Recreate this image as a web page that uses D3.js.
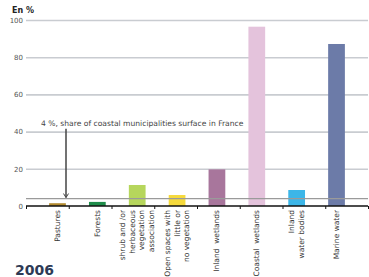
<!DOCTYPE html>
<html>
<head>
<meta charset="utf-8">
<script src="https://cdn.jsdelivr.net/npm/d3@7"></script>
<style>
  body { margin: 0; background: #fff; }
  svg { display: block; font-family: "DejaVu Sans", Verdana, sans-serif; }
</style>
</head>
<body>
<div id="chart"></div>
<script>
// categories (line breaks as in the source labels)
const categories = [
  ['Pastures'],
  ['Forests'],
  ['shrub and /or', 'herbaceous', 'vegetation', 'association'],
  ['Open spaces with', 'little or', 'no vegetation'],
  ['Inland  wetlands'],
  ['Coastal  wetlands'],
  ['Inland', 'water bodies'],
  ['Marine water']
];
const values = [1.5, 2.2, 11.3, 5.9, 19.7, 96.4, 8.6, 87.1];
const colors = ['#b38a2e', '#1e8c4a', '#b6d65c', '#f6da3c', '#a8769c', '#e4c3dc', '#3cb6e8', '#6c7ba8'];
const yTicks = [0, 20, 40, 60, 80, 100];
const refValue = 4;
const refLabel = '4 %, share of coastal municipalities surface in France';

const W = 369, H = 277;
const margin = { top: 20, right: 1, bottom: 71, left: 26 };
const width = W - margin.left - margin.right;
const height = H - margin.top - margin.bottom;

const svg = d3.select('#chart').append('svg')
  .attr('width', W).attr('height', H);

svg.append('text')
  .attr('x', 12).attr('y', 13)
  .style('font-size', '8px').style('font-weight', 'bold').attr('fill', '#222')
  .text('En %');

const g = svg.append('g').attr('transform', `translate(${margin.left},${margin.top})`);

const x = d3.scaleBand().domain(d3.range(categories.length)).range([0, width]).padding(0.58);
const y = d3.scaleLinear().domain([0, 100]).range([height, 0]);

// gridlines + tick labels
const yAxis = g.append('g')
  .call(d3.axisLeft(y).tickValues(yTicks).tickSize(-width).tickFormat(d => d === 0 ? '0' : d));
yAxis.select('.domain').remove();
yAxis.selectAll('.tick line')
  .attr('stroke', d => d === 0 ? 'none' : '#c9ccd1').attr('stroke-width', 1.6);
yAxis.selectAll('.tick text')
  .attr('x', -3).attr('fill', '#555').style('font-size', '7px')
  .style('font-family', '"DejaVu Sans", Verdana, sans-serif');

// bars
g.selectAll('rect.bar')
  .data(values)
  .enter()
  .append('rect')
  .attr('class', 'bar')
  .attr('x', (d, i) => x(i))
  .attr('y', d => y(d))
  .attr('width', x.bandwidth())
  .attr('height', d => height - y(d))
  .attr('fill', (d, i) => colors[i]);

// reference line
g.append('line')
  .attr('x1', 0).attr('x2', width)
  .attr('y1', y(refValue)).attr('y2', y(refValue))
  .attr('stroke', '#9a9a9a').attr('stroke-width', 1.2);

// x axis
const xAxis = g.append('g')
  .attr('transform', `translate(0,${height})`)
  .call(d3.axisBottom(d3.scaleLinear().domain([0, categories.length]).range([0, width]))
    .tickValues(d3.range(categories.length + 1)).tickSize(3).tickFormat(''));
xAxis.select('.domain').attr('stroke', '#111').attr('stroke-width', 1.3).attr('d', `M0,0H${width}`);
xAxis.selectAll('.tick line').attr('stroke', '#111');

// rotated category labels
const labels = g.append('g').attr('transform', `translate(0,${height + 4})`);
categories.forEach((lines, i) => {
  const cx = x(i) + x.bandwidth() / 2;
  const n = lines.length;
  const t = labels.append('text')
    .attr('transform', `translate(${cx},0) rotate(-90)`)
    .attr('text-anchor', 'end')
    .attr('fill', '#333')
    .style('font-size', '7.5px');
  lines.forEach((ln, k) => {
    t.append('tspan')
      .attr('x', 0)
      .attr('y', (k - (n - 1) / 2) * 9.5 + 2.5)
      .style('white-space', 'pre')
      .text(ln);
  });
});

// annotation
const ax = 40;
g.append('text')
  .attr('x', 15).attr('y', y(43.2))
  .attr('fill', '#444').style('font-size', '7.6px')
  .text(refLabel);
g.append('line')
  .attr('x1', ax).attr('x2', ax)
  .attr('y1', y(41.5)).attr('y2', y(refValue) - 1)
  .attr('stroke', '#444').attr('stroke-width', 1.5);
g.append('path')
  .attr('d', `M${ax - 2.5},${y(refValue) - 5}L${ax},${y(refValue) - 1}L${ax + 2.5},${y(refValue) - 5}`)
  .attr('fill', 'none').attr('stroke', '#444').attr('stroke-width', 1);

svg.append('text')
  .attr('x', 15).attr('y', 275)
  .attr('fill', '#2e3a55').style('font-size', '14px').style('font-weight', 'bold')
  .text('2006');
</script>
</body>
</html>
